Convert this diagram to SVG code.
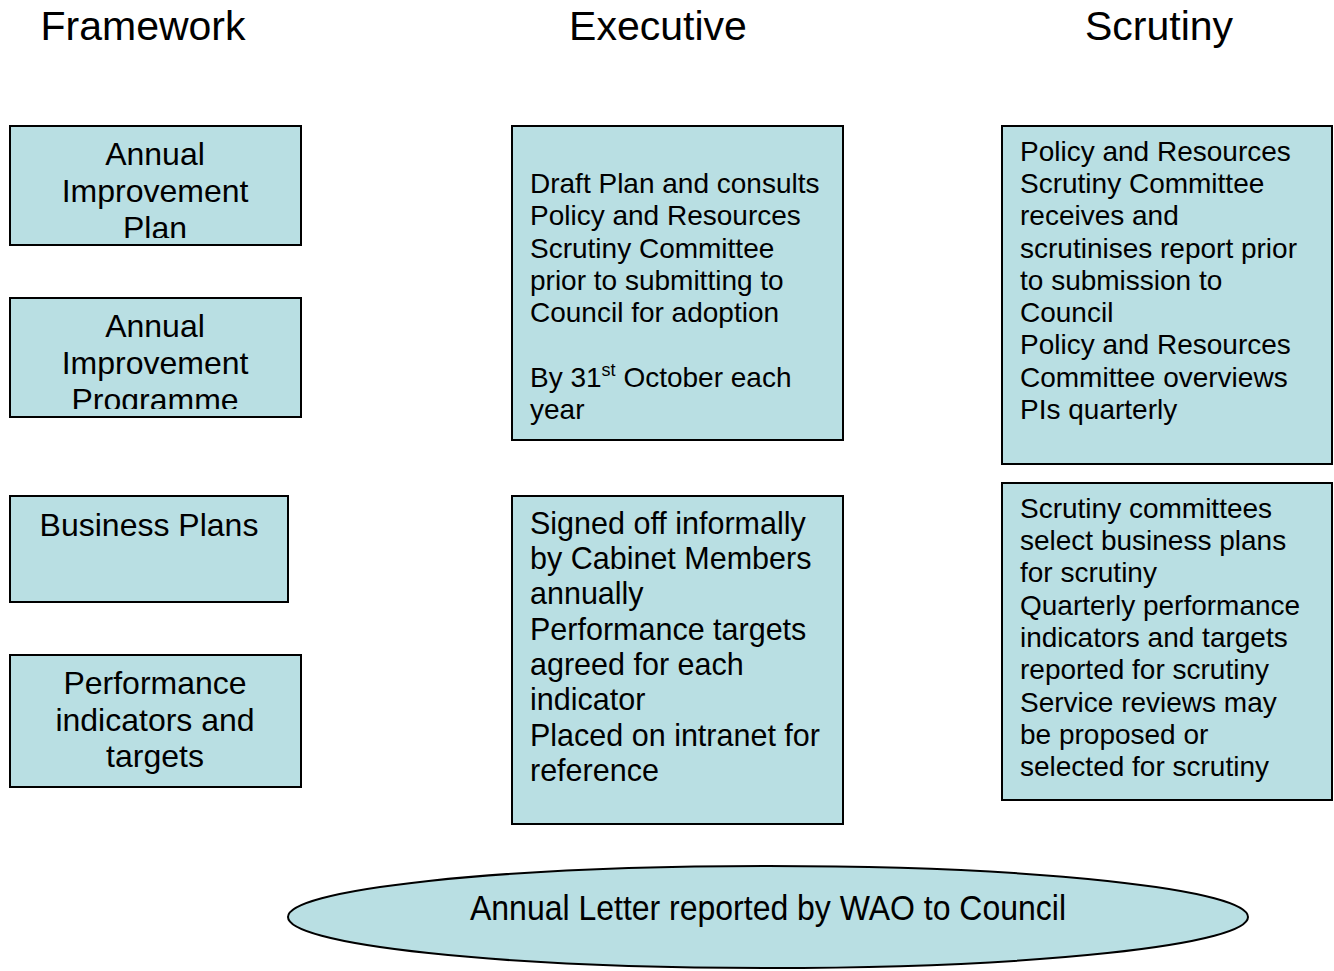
<svg xmlns="http://www.w3.org/2000/svg" width="1334" height="971" viewBox="0 0 1334 971">
  <style>
    .box { fill: #B9DFE3; stroke: #000; stroke-width: 2; }
    text { font-family: "Liberation Sans", Arial, sans-serif; fill: #000; }
    .title { font-size: 41px; text-anchor: middle; }
    .fw { font-size: 32px; text-anchor: middle; }
    .body { font-size: 28px; }
    .bodyL { font-size: 30.5px; }
  </style>
  <defs>
    <clipPath id="clip-aip"><rect x="11" y="127" width="289" height="111"/></clipPath>
    <clipPath id="clip-aiprog"><rect x="11" y="299" width="289" height="110"/></clipPath>
  </defs>

  <!-- column headings -->
  <g id="headings">
    <text class="title" x="143" y="40">Framework</text>
    <text class="title" x="658" y="40">Executive</text>
    <text class="title" x="1159" y="40">Scrutiny</text>
  </g>

  <!-- framework column -->
  <g id="annual-improvement-plan">
    <rect class="box" x="10" y="126" width="291" height="119"/>
    <g clip-path="url(#clip-aip)">
      <text class="fw" x="155" y="165">Annual</text>
      <text class="fw" x="155" y="202">Improvement</text>
      <text class="fw" x="155" y="239">Plan</text>
    </g>
  </g>
  <g id="annual-improvement-programme">
    <rect class="box" x="10" y="298" width="291" height="119"/>
    <g clip-path="url(#clip-aiprog)">
      <text class="fw" x="155" y="337">Annual</text>
      <text class="fw" x="155" y="374">Improvement</text>
      <text class="fw" x="155" y="411">Programme</text>
    </g>
  </g>
  <g id="business-plans">
    <rect class="box" x="10" y="496" width="278" height="106"/>
    <text class="fw" x="149" y="536">Business Plans</text>
  </g>
  <g id="performance-indicators">
    <rect class="box" x="10" y="655" width="291" height="132"/>
    <text class="fw" x="155" y="694">Performance</text>
    <text class="fw" x="155" y="731">indicators and</text>
    <text class="fw" x="155" y="767">targets</text>
  </g>

  <!-- executive column -->
  <g id="exec-plan">
    <rect class="box" x="512" y="126" width="331" height="314"/>
    <text class="body" x="530" y="193">Draft Plan and consults</text>
    <text class="body" x="530" y="225">Policy and Resources</text>
    <text class="body" x="530" y="258">Scrutiny Committee</text>
    <text class="body" x="530" y="290">prior to submitting to</text>
    <text class="body" x="530" y="322">Council for adoption</text>
    <text class="body" x="530" y="387">By 31<tspan font-size="18" dy="-11">st</tspan><tspan dy="11"> October each</tspan></text>
    <text class="body" x="530" y="419">year</text>
  </g>
  <g id="exec-business">
    <rect class="box" x="512" y="496" width="331" height="328"/>
    <text class="bodyL" x="530" y="534">Signed off informally</text>
    <text class="bodyL" x="530" y="569">by Cabinet Members</text>
    <text class="bodyL" x="530" y="604">annually</text>
    <text class="bodyL" x="530" y="640">Performance targets</text>
    <text class="bodyL" x="530" y="675">agreed for each</text>
    <text class="bodyL" x="530" y="710">indicator</text>
    <text class="bodyL" x="530" y="746">Placed on intranet for</text>
    <text class="bodyL" x="530" y="781">reference</text>
  </g>

  <!-- scrutiny column -->
  <g id="scrutiny-plan">
    <rect class="box" x="1002" y="126" width="330" height="338"/>
    <text class="body" x="1020" y="161">Policy and Resources</text>
    <text class="body" x="1020" y="193">Scrutiny Committee</text>
    <text class="body" x="1020" y="225">receives and</text>
    <text class="body" x="1020" y="258">scrutinises report prior</text>
    <text class="body" x="1020" y="290">to submission to</text>
    <text class="body" x="1020" y="322">Council</text>
    <text class="body" x="1020" y="354">Policy and Resources</text>
    <text class="body" x="1020" y="387">Committee overviews</text>
    <text class="body" x="1020" y="419">PIs quarterly</text>
  </g>
  <g id="scrutiny-business">
    <rect class="box" x="1002" y="483" width="330" height="317"/>
    <text class="body" x="1020" y="518">Scrutiny committees</text>
    <text class="body" x="1020" y="550">select business plans</text>
    <text class="body" x="1020" y="582">for scrutiny</text>
    <text class="body" x="1020" y="615">Quarterly performance</text>
    <text class="body" x="1020" y="647">indicators and targets</text>
    <text class="body" x="1020" y="679">reported for scrutiny</text>
    <text class="body" x="1020" y="712">Service reviews may</text>
    <text class="body" x="1020" y="744">be proposed or</text>
    <text class="body" x="1020" y="776">selected for scrutiny</text>
  </g>

  <!-- annual letter -->
  <g id="annual-letter">
    <ellipse class="box" cx="768" cy="917" rx="480" ry="51"/>
    <text x="470" y="920" font-size="35" textLength="596" lengthAdjust="spacingAndGlyphs">Annual Letter reported by WAO to Council</text>
  </g>

  <g id="connectors"></g>
</svg>
